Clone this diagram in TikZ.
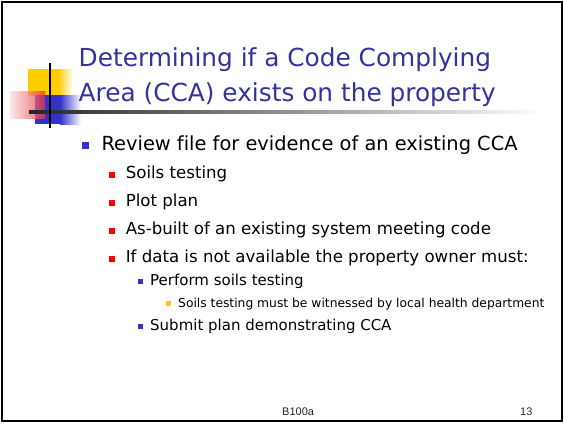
\documentclass[tikz,border=0pt]{standalone}
\usepackage{fontspec}
\setmainfont[Ligatures=NoCommon]{DejaVu Sans}
\newfontfamily\footfont{Liberation Sans}
\usetikzlibrary{positioning}
\definecolor{titleblue}{HTML}{333399}
\definecolor{bulletblue}{HTML}{3333CC}
\definecolor{bulletred}{HTML}{FF0000}
\definecolor{bulletyellow}{HTML}{FFCC00}
\definecolor{decopink}{HTML}{E8303A}

\begin{document}
\begin{tikzpicture}[x=1pt, y=-1pt,
      txt/.style={anchor=base west, inner sep=0pt},
      sq/.style={rectangle, inner sep=0pt, anchor=south west},
      lvlA/.style={txt, font=\fontsize{19.4}{22}\selectfont},
      lvlB/.style={txt, font=\fontsize{16.6}{20}\selectfont},
      lvlC/.style={txt, font=\fontsize{15}{17}\selectfont},
      lvlD/.style={txt, font=\fontsize{12.3}{14}\selectfont}
      ]
      \useasboundingbox (0,0) rectangle (564,424);
      \fill[white] (0,0) rectangle (564,424);
      % decoration
      \fill[bulletyellow] (28,69) rectangle (58,96);
      \shade[left color=bulletyellow, right color=white] (58,69) rectangle (73,96);
      \fill[bulletblue] (35,95) rectangle (60,124);
      \shade[left color=bulletblue, right color=white] (60,95) rectangle (81,124);
      \shade[left color=decopink!15, right color=decopink, opacity=0.75] (10,91) rectangle (45,118);
      \shade[left color=black!85, right color=white] (29,110.5) rectangle (545,113.5);
      \draw[line width=2.5pt] (50,63) -- (50,128);
      \draw[line width=2pt] (2,2) rectangle (562,421);
      % title
      \node[txt, text=titleblue, font=\fontsize{24.8}{35}\selectfont] (L1) at (78.5,66.5) {Determining if a Code Complying};
      \node[txt, text=titleblue, font=\fontsize{24.8}{35}\selectfont] (L2) at (78.5,101) {Area (CCA) exists on the property};
      % level 1
      \node[sq, fill=bulletblue, minimum size=7pt] (BA) at (82,149) {};
      \node[lvlA] (REV) at (101.4,150.7) {Review file for evidence of an existing CCA};
      % level 2
      \node[sq, fill=bulletred, minimum size=6pt] (BB1) at (109,178) {};
      \node[lvlB] (SOIL) at (125.6,178.5) {Soils testing};
      \node[sq, fill=bulletred, minimum size=6pt] (BB2) at (109,206) {};
      \node[lvlB] (PLOT) at (125.6,206.5) {Plot plan};
      \node[sq, fill=bulletred, minimum size=6pt] (BB3) at (109,234) {};
      \node[lvlB] (ASB) at (125.6,234.5) {As-built of an existing system meeting code};
      \node[sq, fill=bulletred, minimum size=6pt] (BB4) at (109,262) {};
      \node[lvlB] (DATA) at (125.6,262.5) {If data is not available the property owner must:};
      % level 3
      \node[sq, fill=bulletblue, minimum size=5pt] (BC1) at (138,284) {};
      \node[lvlC] (PERF) at (150,285) {Perform soils testing};
      \node[sq, fill=bulletyellow, minimum size=4.5pt] (BD1) at (166,306) {};
      \node[lvlD] (WIT) at (178,307) {Soils testing must be witnessed by local health department};
      \node[sq, fill=bulletblue, minimum size=5pt] (BC2) at (138,329) {};
      \node[lvlC] (SUB) at (150,330) {Submit plan demonstrating CCA};
      % footer
      \node[txt, font=\footfont\fontsize{11}{12}\selectfont, text=black!85] (FOOT) at (282,415) {B100a};
      \node[txt, font=\footfont\fontsize{11}{12}\selectfont, text=black!85] (PAGE) at (520,415) {13};
    \end{tikzpicture}
\end{document}
